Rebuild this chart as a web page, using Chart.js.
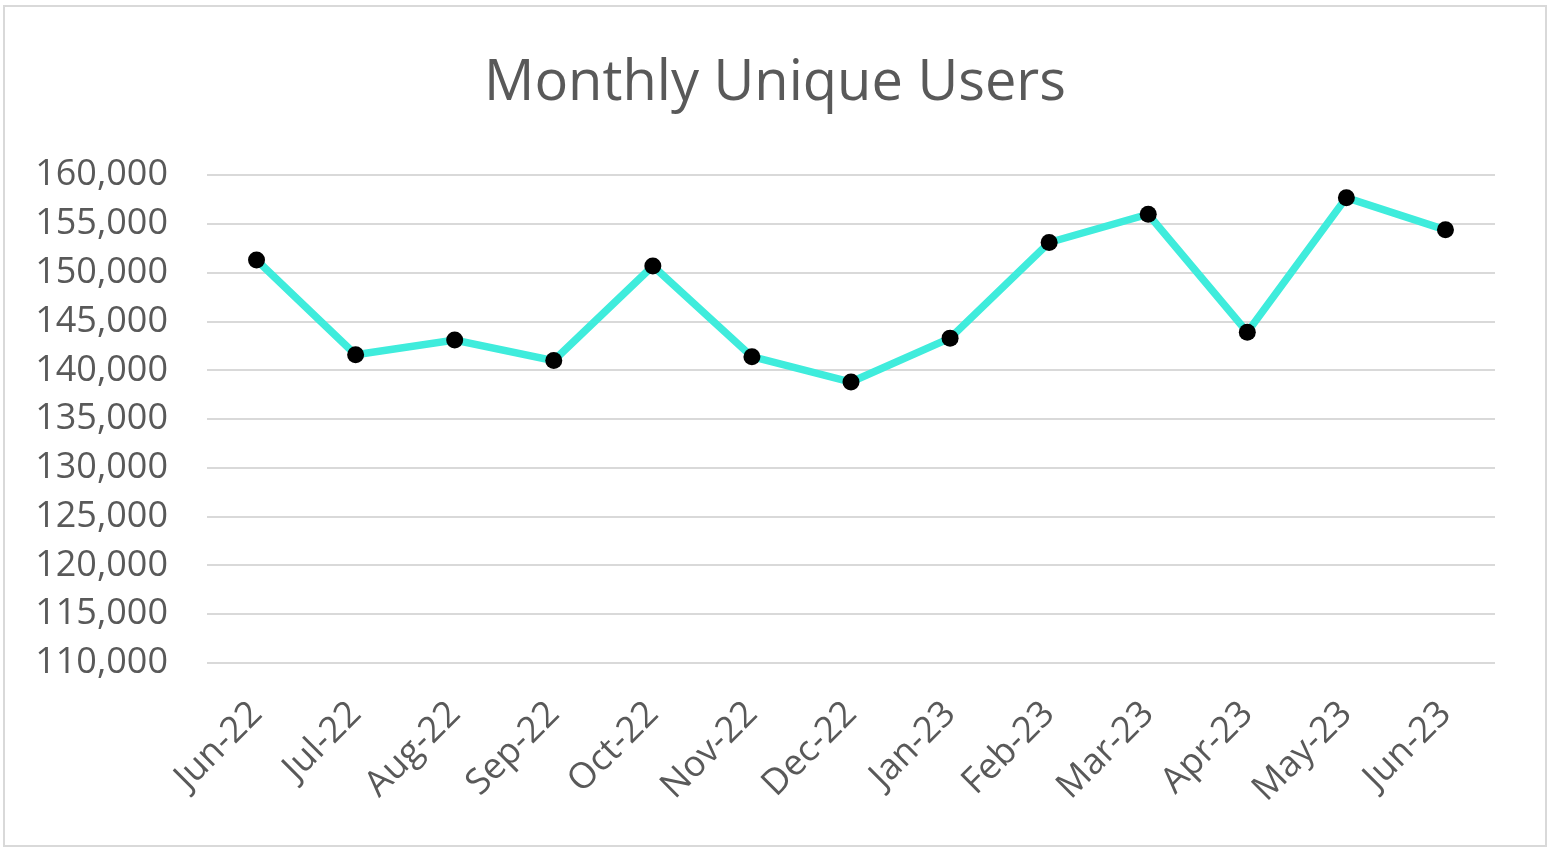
<!DOCTYPE html>
<html>
<head>
<meta charset="utf-8">
<script src="https://cdn.jsdelivr.net/npm/chart.js@4"></script>
<style>
html,body{margin:0;padding:0;background:#fff;}
#box{position:absolute;left:3px;top:5px;width:1540px;height:838px;border:2px solid #d9d9d9;background:#fff;}
#c{display:block;}
</style>
</head>
<body>
<div id="box"><canvas id="c" width="1540" height="838"></canvas></div>
<script>
const months = ["Jun-22","Jul-22","Aug-22","Sep-22","Oct-22","Nov-22","Dec-22","Jan-23","Feb-23","Mar-23","Apr-23","May-23","Jun-23"];
const uniqueUsers = [151300,141600,143100,141000,150700,141400,138800,143300,153100,156000,143900,157700,154400];
const yMin = 110000;
const yMax = 160000;
const yStep = 5000;

const textColor = '#595959';
const fontFamily = '"Open Sans", "Noto Sans", sans-serif';

new Chart(document.getElementById('c'), {
  type: 'line',
  data: {
    labels: months,
    datasets: [{
      label: 'Monthly Unique Users',
      data: uniqueUsers,
      borderColor: '#3FECDC',
      backgroundColor: '#000',
      borderWidth: 7.5,
      pointRadius: 8.5,
      pointBackgroundColor: '#000',
      pointBorderColor: '#000',
      pointBorderWidth: 0,
      tension: 0,
      fill: false,
      yAxisID: 'y'
    }]
  },
  options: {
    responsive: false,
    animation: false,
    devicePixelRatio: 1,
    layout: { padding: { left: 0, right: 0, top: 0, bottom: 0 } },
    plugins: {
      legend: { display: false },
      tooltip: { enabled: false },
      title: {
        display: true,
        text: 'Monthly Unique Users',
        color: textColor,
        font: { family: fontFamily, size: 56, weight: 'normal', lineHeight: 1.2 },
        padding: { top: 43, bottom: 58 }
      }
    },
    scales: {
      x: {
        offset: true,
        grid: { display: false, drawTicks: false },
        border: { display: false },
        ticks: {
          color: textColor,
          font: { family: fontFamily, size: 36 },
          maxRotation: 45,
          minRotation: 45,
          padding: 30,
          autoSkip: false
        },
        afterFit: (s) => { s.height = 182; }
      },
      y: {
        min: yMin,
        max: yMax,
        grid: { color: '#d9d9d9', lineWidth: 2, drawTicks: false },
        border: { display: false },
        ticks: {
          stepSize: yStep,
          color: textColor,
          font: { family: fontFamily, size: 36 },
          padding: 39,
          callback: (v) => v.toLocaleString('en-US')
        },
        afterFit: (s) => { s.width = 202; }
      },
      yRightSpace: {
        position: 'right',
        min: yMin,
        max: yMax,
        grid: { display: false, drawTicks: false },
        border: { display: false },
        ticks: { display: false },
        afterFit: (s) => { s.width = 50; }
      }
    }
  }
});
</script>
</body>
</html>
